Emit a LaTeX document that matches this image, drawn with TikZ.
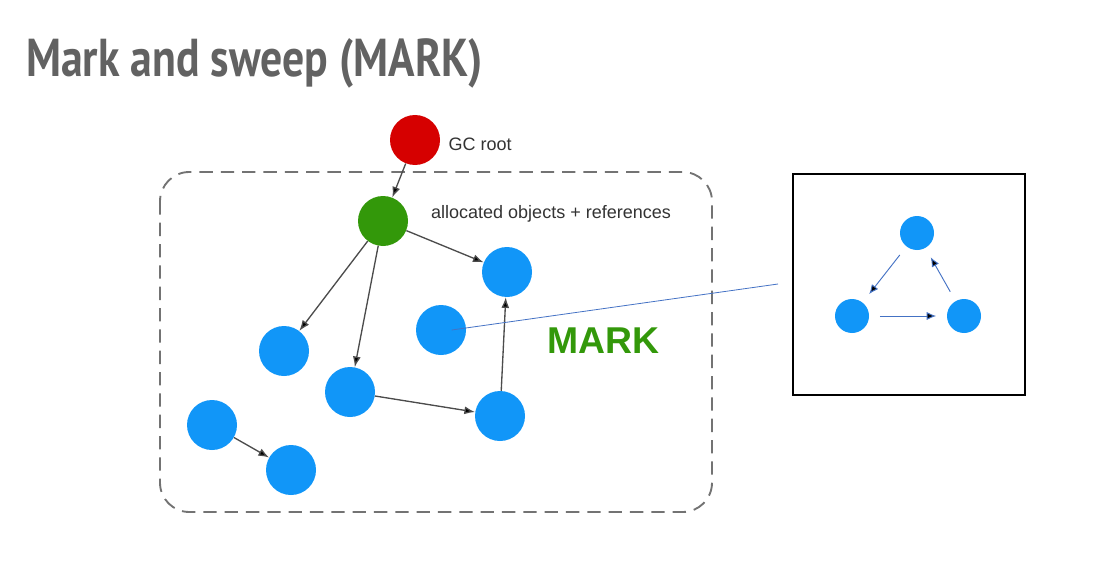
\documentclass[tikz,border=0pt]{standalone}
\usepackage{fontspec}
\setmainfont{Liberation Sans}
\newfontfamily\titlefont[FakeStretch=0.82]{PT Sans}
\usetikzlibrary{positioning, arrows.meta}
\definecolor{objblue}{HTML}{1196F8}
\definecolor{rootred}{HTML}{D60000}
\definecolor{livegreen}{HTML}{33980A}
\definecolor{titlegray}{HTML}{626262}
\definecolor{linkblue}{HTML}{4472C4}

\begin{document}
\begin{tikzpicture}[x=0.75pt, y=-0.75pt, >={Latex[length=8pt, width=6pt]},
    obj/.style={circle, fill=objblue, inner sep=0pt, minimum size=37.5pt},
    small/.style={circle, fill=objblue, inner sep=0pt, minimum size=25.5pt},
    ref/.style={->, draw=black!70, line width=1pt},
    cyc/.style={->, draw=linkblue, line width=0.7pt, >={Latex[length=7pt, width=6pt]},
      shorten >=8pt, shorten <=8pt},
    lbl/.style={font=\fontsize{13.5}{16}\selectfont, text=black!80, inner sep=0pt}]
  \useasboundingbox (0,0) rectangle (1105,563);
  % title
  \node[anchor=base west, inner sep=0pt, text=titlegray,
        font=\titlefont\bfseries\fontsize{40}{40}\selectfont] (title) at (26,77) {Mark and sweep (MARK)};
  % heap area
  \draw[dashed, dash pattern=on 10pt off 6pt, draw=black!55, line width=1.4pt,
        rounded corners=22pt] (160,172) rectangle (712,512);
  % objects
  \node[obj, fill=rootred]   (root) at (415,140) {};
  \node[obj, fill=livegreen] (g)    at (383,221) {};
  \node[obj] (a) at (507,272) {};
  \node[obj] (b) at (441,330) {};
  \node[obj] (c) at (284,351) {};
  \node[obj] (d) at (350,392) {};
  \node[obj] (e) at (500,416) {};
  \node[obj] (f) at (212,425) {};
  \node[obj] (h) at (291,470) {};
  \node[lbl, anchor=west] (rootlbl) [right=6pt of root, yshift=-3pt] {GC root};
  \node[lbl, anchor=west] (heaplbl) [right=17pt of g, yshift=5pt] {allocated objects + references};
  \node[font=\bfseries\fontsize{28}{30}\selectfont, text=livegreen, inner sep=0pt] (mark) at (603,341) {MARK};
  \path[ref]
    (root) edge (g)
    (g) edge (a)
    (g) edge (c)
    (g) edge (d)
    (d) edge (e)
    (e) edge (a)
    (f) edge (h);
  % zoomed cycle
  \node[draw, line width=0.9pt, inner sep=0pt, minimum width=174pt, minimum height=165.75pt] (zoom) at (909,284.5) {};
  \coordinate (zin) at (778,284);
  \draw[linkblue, line width=0.6pt] ([xshift=8pt]b.center) -- (zin);
  \node[small] (t) at (917,233) {};
  \node[small] (l) at (852,316) {};
  \node[small] (r) at (964,316) {};
  \path[cyc]
    (t) edge (l)
    (l) edge (r)
    (r) edge (t);
\end{tikzpicture}
\end{document}
